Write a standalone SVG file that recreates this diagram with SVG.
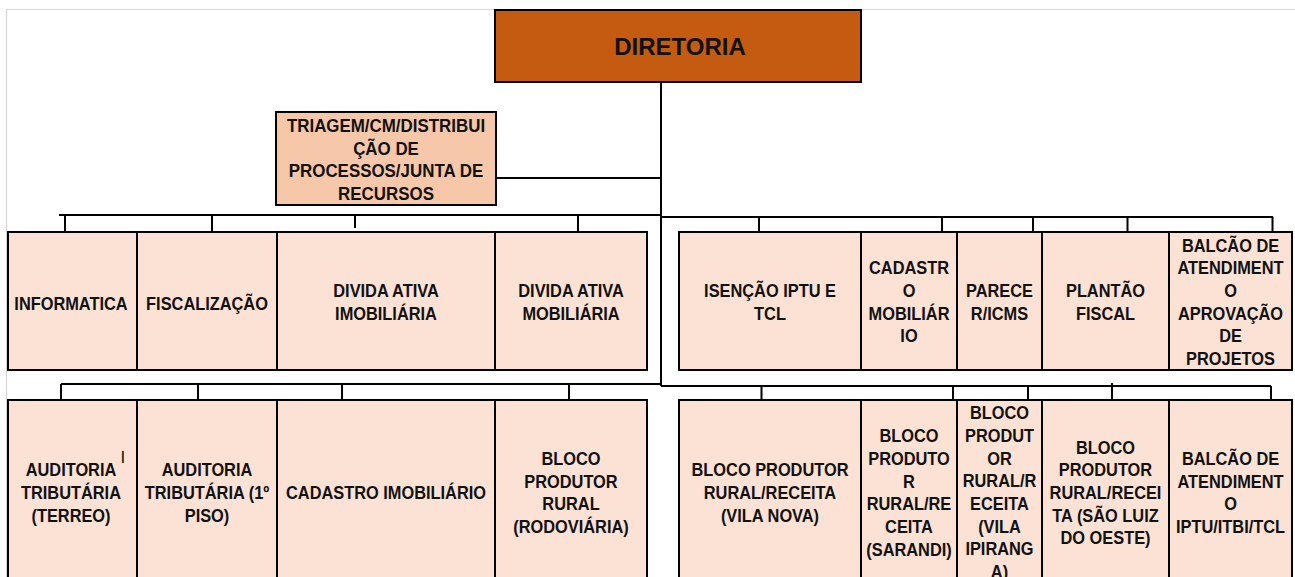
<svg xmlns="http://www.w3.org/2000/svg" width="1295" height="577" viewBox="0 0 1295 577">
<style>
.bg{fill:#fff}
.frame{stroke:#d6d6d6;stroke-width:1.2;fill:none}
.box{stroke:#000;stroke-width:2}
.top{fill:#C55A11}
.mid{fill:#F6C8A9}
.lvl{fill:#FBE2D5}
.conn{stroke:#000;stroke-width:2;fill:none}
.t{font-family:"Liberation Sans",Arial,sans-serif;font-weight:bold;font-size:18px;fill:#111;text-anchor:middle}
.h{font-family:"Liberation Sans",Arial,sans-serif;font-weight:bold;font-size:24px;fill:#111;text-anchor:middle}
</style>
<rect class="bg" x="0" y="0" width="1295" height="577"/>
<path class="frame" d="M6.5 577 V9.5 H1295"/>

<g id="connectors">
<path class="conn" d="M661 82 V386"/>
<path class="conn" d="M496 178 H661"/>
<path class="conn" d="M59 215 H661 M65 215 V232 M212 215 V232 M355 215 V228 M578 215 V232"/>
<path class="conn" d="M661 217 H1273 M759 217 V232 M942 217 V232 M1033 217 V232 M1127.5 217 V232 M1272.5 217 V232"/>
<path class="conn" d="M61 384 H661 M61 384 V400 M198 384 V400 M342 384 V400 M569 384 V400"/>
<path class="conn" d="M661 386 H1271 M761.5 386 V400 M953 386 V400 M1028 386 V400 M1112 383 V400 M1271 386 V400"/>
</g>

<g id="diretoria">
<rect class="box top" x="495" y="10" width="366" height="72"/>
<text class="h" x="680" y="55">DIRETORIA</text>
</g>

<g id="triagem">
<rect class="box mid" x="276" y="112" width="220" height="93"/>
<g transform="translate(386 0) scale(0.94 1)">
<text class="t" x="0" y="132">TRIAGEM/CM/DISTRIBUI</text>
<text class="t" x="0" y="155">ÇÃO DE</text>
<text class="t" x="0" y="177.5">PROCESSOS/JUNTA DE</text>
<text class="t" x="0" y="200">RECURSOS</text>
</g>
</g>

<!-- Row 1 left -->
<g id="informatica">
<rect class="box lvl" x="8" y="232" width="129" height="138"/>
<g transform="translate(71 0) scale(0.91 1)"><text class="t" x="0" y="310">INFORMATICA</text></g>
</g>
<g id="fiscalizacao">
<rect class="box lvl" x="137" y="232" width="140" height="138"/>
<g transform="translate(207 0) scale(0.91 1)"><text class="t" x="0" y="310">FISCALIZAÇÃO</text></g>
</g>
<g id="divida-imobiliaria">
<rect class="box lvl" x="277" y="232" width="218" height="138"/>
<g transform="translate(386 0) scale(0.91 1)"><text class="t" x="0" y="297.3">DIVIDA ATIVA</text><text class="t" x="0" y="320">IMOBILIÁRIA</text></g>
</g>
<g id="divida-mobiliaria">
<rect class="box lvl" x="495" y="232" width="152" height="138"/>
<g transform="translate(571 0) scale(0.91 1)"><text class="t" x="0" y="297.3">DIVIDA ATIVA</text><text class="t" x="0" y="320">MOBILIÁRIA</text></g>
</g>

<!-- Row 1 right -->
<g id="isencao">
<rect class="box lvl" x="679" y="232" width="182" height="138"/>
<g transform="translate(770 0) scale(0.91 1)"><text class="t" x="0" y="297.3">ISENÇÃO IPTU E</text><text class="t" x="0" y="320">TCL</text></g>
</g>
<g id="cadastro-mobiliario">
<rect class="box lvl" x="861" y="232" width="96" height="138"/>
<g transform="translate(909 0) scale(0.91 1)"><text class="t" x="0" y="274.3">CADASTR</text><text class="t" x="0" y="297">O</text><text class="t" x="0" y="319.7">MOBILIÁR</text><text class="t" x="0" y="342.3">IO</text></g>
</g>
<g id="parecer">
<rect class="box lvl" x="957" y="232" width="85" height="138"/>
<g transform="translate(999.5 0) scale(0.91 1)"><text class="t" x="0" y="297.3">PARECE</text><text class="t" x="0" y="320">R/ICMS</text></g>
</g>
<g id="plantao">
<rect class="box lvl" x="1042" y="232" width="127" height="138"/>
<g transform="translate(1105.5 0) scale(0.91 1)"><text class="t" x="0" y="297.3">PLANTÃO</text><text class="t" x="0" y="320">FISCAL</text></g>
</g>
<g id="balcao-projetos">
<rect class="box lvl" x="1169" y="232" width="123" height="138"/>
<g transform="translate(1230.5 0) scale(0.91 1)"><text class="t" x="0" y="251.7">BALCÃO DE</text><text class="t" x="0" y="274.3">ATENDIMENT</text><text class="t" x="0" y="297">O</text><text class="t" x="0" y="319.7">APROVAÇÃO</text><text class="t" x="0" y="342.3">DE</text><text class="t" x="0" y="365">PROJETOS</text></g>
</g>

<!-- Row 2 left -->
<g id="auditoria-terreo">
<rect class="box lvl" x="8" y="400" width="129" height="190"/>
<g transform="translate(71 0) scale(0.91 1)"><text class="t" x="0" y="476.3">AUDITORIA</text><text class="t" x="0" y="499">TRIBUTÁRIA</text><text class="t" x="0" y="521.7">(TERREO)</text></g>
<text x="120.5" y="463" style="font-family:'Liberation Sans',Arial,sans-serif;font-size:17px;fill:#111">I</text>
</g>
<g id="auditoria-piso">
<rect class="box lvl" x="137" y="400" width="140" height="190"/>
<g transform="translate(207 0) scale(0.91 1)"><text class="t" x="0" y="476.3">AUDITORIA</text><text class="t" x="0" y="499">TRIBUTÁRIA (1º</text><text class="t" x="0" y="521.7">PISO)</text></g>
</g>
<g id="cadastro-imobiliario">
<rect class="box lvl" x="277" y="400" width="218" height="190"/>
<g transform="translate(386 0) scale(0.91 1)"><text class="t" x="0" y="499">CADASTRO IMOBILIÁRIO</text></g>
</g>
<g id="bloco-rodoviaria">
<rect class="box lvl" x="495" y="400" width="152" height="190"/>
<g transform="translate(571 0) scale(0.91 1)"><text class="t" x="0" y="465">BLOCO</text><text class="t" x="0" y="487.7">PRODUTOR</text><text class="t" x="0" y="510.4">RURAL</text><text class="t" x="0" y="533.1">(RODOVIÁRIA)</text></g>
</g>

<!-- Row 2 right -->
<g id="bloco-vila-nova">
<rect class="box lvl" x="679" y="400" width="182" height="190"/>
<g transform="translate(770 0) scale(0.91 1)"><text class="t" x="0" y="476.3">BLOCO PRODUTOR</text><text class="t" x="0" y="499">RURAL/RECEITA</text><text class="t" x="0" y="521.7">(VILA NOVA)</text></g>
</g>
<g id="bloco-sarandi">
<rect class="box lvl" x="861" y="400" width="96" height="190"/>
<g transform="translate(909 0) scale(0.91 1)"><text class="t" x="0" y="442.3">BLOCO</text><text class="t" x="0" y="465">PRODUTO</text><text class="t" x="0" y="487.7">R</text><text class="t" x="0" y="510.4">RURAL/RE</text><text class="t" x="0" y="533.1">CEITA</text><text class="t" x="0" y="555.8">(SARANDI)</text></g>
</g>
<g id="bloco-vila-ipiranga">
<rect class="box lvl" x="957" y="400" width="85" height="190"/>
<g transform="translate(999.5 0) scale(0.91 1)"><text class="t" x="0" y="419.3">BLOCO</text><text class="t" x="0" y="442">PRODUT</text><text class="t" x="0" y="464.7">OR</text><text class="t" x="0" y="487.4">RURAL/R</text><text class="t" x="0" y="510.1">ECEITA</text><text class="t" x="0" y="532.8">(VILA</text><text class="t" x="0" y="555.5">IPIRANG</text><text class="t" x="0" y="578.2">A)</text></g>
</g>
<g id="bloco-sao-luiz">
<rect class="box lvl" x="1042" y="400" width="127" height="190"/>
<g transform="translate(1105.5 0) scale(0.91 1)"><text class="t" x="0" y="453.6">BLOCO</text><text class="t" x="0" y="476.3">PRODUTOR</text><text class="t" x="0" y="499">RURAL/RECEI</text><text class="t" x="0" y="521.7">TA (SÃO LUIZ</text><text class="t" x="0" y="544.4">DO OESTE)</text></g>
</g>
<g id="balcao-iptu">
<rect class="box lvl" x="1169" y="400" width="123" height="190"/>
<g transform="translate(1230.5 0) scale(0.91 1)"><text class="t" x="0" y="465">BALCÃO DE</text><text class="t" x="0" y="487.7">ATENDIMENT</text><text class="t" x="0" y="510.4">O</text><text class="t" x="0" y="533.1">IPTU/ITBI/TCL</text></g>
</g>
</svg>
